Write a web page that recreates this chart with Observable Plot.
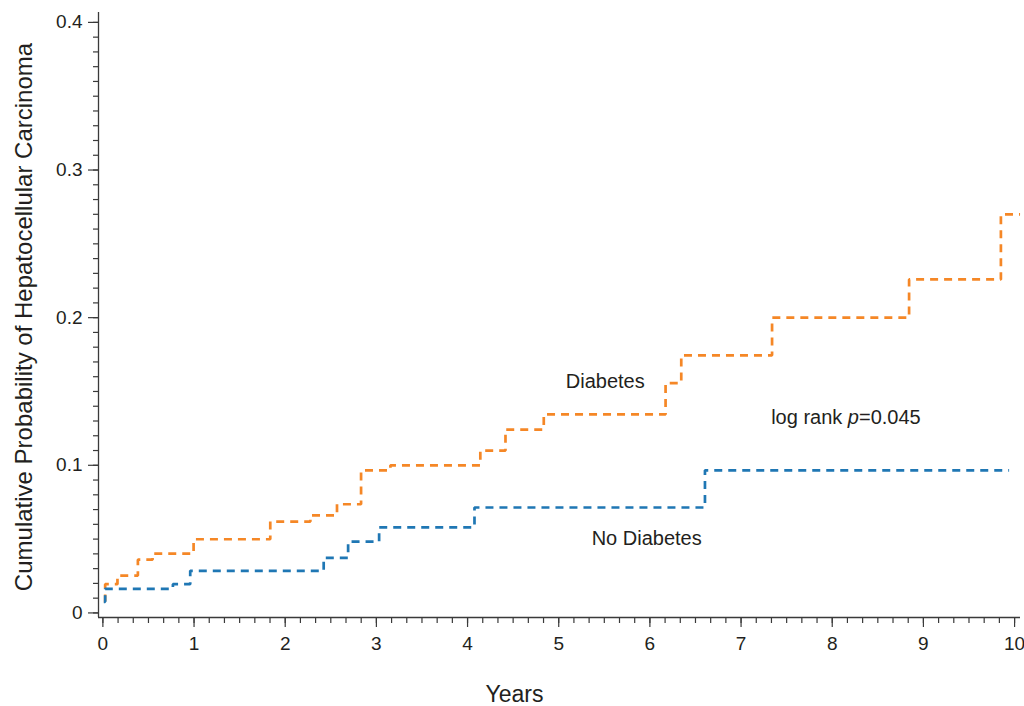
<!DOCTYPE html>
<html><head><meta charset="utf-8">
<script src="https://cdn.jsdelivr.net/npm/d3@7"></script>
<script src="https://cdn.jsdelivr.net/npm/@observablehq/plot@0.6"></script>
<style>
body{margin:0;background:#fff}
#chart{width:1024px;height:706px;overflow:hidden}
</style>
</head><body><div id="chart"></div>
<script>
// Diabetes (step points: time in years, cumulative probability)
const diabetesYears = [0.01, 0.025, 0.16, 0.384, 0.545, 0.995, 1.836, 2.276, 2.568, 2.832, 3.154, 4.14, 4.416, 4.836, 6.172, 6.344, 7.34, 8.843, 9.85, 10.06];
const diabetesProb  = [0.008, 0.0195, 0.0253, 0.0361, 0.0402, 0.0499, 0.0619, 0.0661, 0.0736, 0.0966, 0.100, 0.110, 0.1242, 0.1345, 0.1557, 0.1745, 0.200, 0.2259, 0.270, 0.270];
// No Diabetes
const noDiabetesYears = [0.01, 0.025, 0.768, 0.958, 2.422, 2.69, 3.03, 4.076, 6.604, 9.94];
const noDiabetesProb  = [0.0075, 0.0163, 0.0195, 0.0285, 0.0373, 0.0483, 0.058, 0.0714, 0.0966, 0.0966];

const seriesNames = ["Diabetes", "No Diabetes"];
const xTicks = [0,1,2,3,4,5,6,7,8,9,10];
const xTickLabels = ["0","1","2","3","4","5","6","7","8","9","10"];
const yTicks = [0, 0.1, 0.2, 0.3, 0.4];
const yTickLabels = ["0","0.1","0.2","0.3","0.4"];
const xMinorTicks = d3.range(0, 61).map(i => i / 6);
const yMinorTicks = d3.range(0, 41).map(i => i / 100);
const xTitle = "Years";
const yTitle = "Cumulative Probability of Hepatocellular Carcinoma";
const pValueText = "log rank p=0.045";

const rows = [
  ...diabetesYears.map((t, i) => ({series: seriesNames[0], t, p: diabetesProb[i]})),
  ...noDiabetesYears.map((t, i) => ({series: seriesNames[1], t, p: noDiabetesProb[i]}))
];

const xDomain = [-0.048, 10.065];
const yDomain = [-0.0031, 0.4067];
const axisColor = "#3a3a3a";
const textColor = "#231f20";
const font = "'Liberation Sans', Arial, Helvetica, sans-serif";

const chart = Plot.plot({
  width: 1024,
  height: 706,
  marginLeft: 98,
  marginRight: 4,
  marginTop: 12,
  marginBottom: 89,
  style: {fontFamily: font, fontSize: "19px", color: textColor, background: "#fff"},
  x: {domain: xDomain},
  y: {domain: yDomain},
  color: {domain: seriesNames, range: ["#f58726", "#1f77b4"]},
  marks: [
    Plot.axisX({ticks: xMinorTicks, tickSize: 6, tickFormat: () => "", stroke: axisColor, strokeWidth: 1.2, label: null}),
    Plot.axisX({ticks: xTicks, tickSize: 10, tickPadding: 9, tickFormat: d => xTickLabels[xTicks.indexOf(d)], stroke: axisColor, strokeWidth: 1.2, fill: textColor, fontSize: 19, label: null}),
    Plot.axisY({ticks: yMinorTicks, tickSize: 5, tickFormat: () => "", stroke: axisColor, strokeWidth: 1.2, label: null}),
    Plot.axisY({ticks: yTicks, tickSize: 10, tickPadding: 6, tickFormat: d => yTickLabels[yTicks.indexOf(d)], stroke: axisColor, strokeWidth: 1.2, fill: textColor, fontSize: 19, label: null}),
    Plot.ruleX([xDomain[0]], {stroke: axisColor, strokeWidth: 1.3}),
    Plot.ruleY([yDomain[0]], {stroke: axisColor, strokeWidth: 1.3}),
    Plot.line(rows, {x: "t", y: "p", z: "series", stroke: "series", curve: "step-after", strokeWidth: 2.7, strokeDasharray: "8,6", strokeLinecap: "butt", strokeLinejoin: "miter"}),
    Plot.text([seriesNames[0]], {x: () => 5.51, y: () => 0.157, text: d => d, fontSize: 20, fill: textColor}),
    Plot.text([seriesNames[1]], {x: () => 5.965, y: () => 0.0506, text: d => d, fontSize: 20, fill: textColor}),
    Plot.text([pValueText], {x: () => 7.33, y: () => 0.1325, text: d => d, textAnchor: "start", fontSize: 20, fill: textColor}),
    Plot.text([xTitle], {frameAnchor: "bottom-left", dx: 416, dy: 84, textAnchor: "middle", lineAnchor: "bottom", text: d => d, fontSize: 23, fill: textColor}),
    Plot.text([yTitle], {frameAnchor: "left", dx: -74, dy: 2, rotate: -90, textAnchor: "middle", text: d => d, fontSize: 24, fill: textColor})
  ]
});

// tick label size
chart.querySelectorAll("g[aria-label$='tick label']").forEach(g => {
  g.setAttribute("font-size", "19");
  g.style.fontSize = "19px";
});

// italic "p" in the log-rank annotation
chart.querySelectorAll("text").forEach(el => {
  if (el.textContent === pValueText) {
    while (el.firstChild) el.removeChild(el.firstChild);
    const ns = "http://www.w3.org/2000/svg";
    const a = document.createElementNS(ns, "tspan"); a.textContent = "log rank ";
    const b = document.createElementNS(ns, "tspan"); b.textContent = "p"; b.setAttribute("font-style", "italic");
    const c = document.createElementNS(ns, "tspan"); c.textContent = "=0.045";
    el.append(a, b, c);
  }
});

document.getElementById("chart").append(chart);
</script>
</body></html>
